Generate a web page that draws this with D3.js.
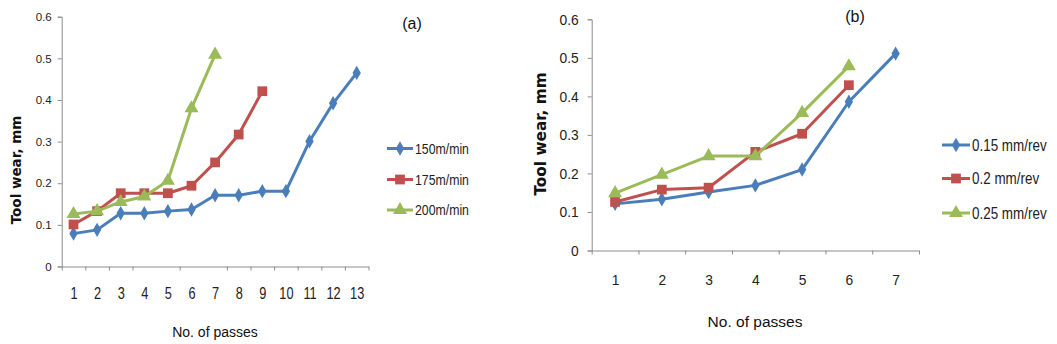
<!DOCTYPE html>
<html>
<head>
<meta charset="utf-8">
<script src="https://cdn.jsdelivr.net/npm/d3@7"></script>
<style>
  html, body { margin: 0; padding: 0; background: #fff; }
  svg { display: block; }
  text { font-family: "Liberation Sans", Arial, sans-serif; }
</style>
</head>
<body>
<svg id="chart" width="1057" height="344"></svg>
<script>
// ---------- Data: chart (a) cutting speed ----------
const passesA = [1,2,3,4,5,6,7,8,9,10,11,12,13];
const tickBoundsA = [0.5,1.5,2.5,3.5,5.5,7.5,8.5,9.5,10.5,11.5,12.5,13.5];
const speed150 = [0.079,0.088,0.128,0.128,0.133,0.137,0.171,0.171,0.181,0.181,0.301,0.392,0.465];
const speed175 = [0.101,0.133,0.176,0.176,0.176,0.194,0.250,0.317,0.421];
const speed200 = [0.126,0.133,0.155,0.168,0.206,0.380,0.509];
const seriesNamesA = ["150m/min","175m/min","200m/min"];

// ---------- Data: chart (b) feed rate ----------
const passesB = [1,2,3,4,5,6,7];
const feed015 = [0.121,0.133,0.152,0.169,0.210,0.386,0.511];
const feed02  = [0.126,0.158,0.163,0.256,0.303,0.429];
const feed025 = [0.149,0.197,0.245,0.245,0.357,0.478];
const seriesNamesB = ["0.15 mm/rev","0.2 mm/rev","0.25 mm/rev"];

const yTicks = [0,0.1,0.2,0.3,0.4,0.5,0.6];
const colors = ["#4a7ebb","#c0504d","#9bbb59"];
const shapes = [d3.symbolDiamond, d3.symbolSquare, d3.symbolTriangle];
const shapeSizes = [60, 95, 85];

const svg = d3.select("#chart");
const axisColor = "#8c8c8c";

function styleAxis(g) {
  g.select(".domain").attr("stroke", axisColor).attr("stroke-width", 1);
  g.selectAll(".tick line").attr("stroke", axisColor).attr("stroke-width", 1);
}

function drawChart(cfg) {
  const x = d3.scaleLinear().domain(cfg.xDomain).range(cfg.xRange);
  const y = d3.scaleLinear().domain([0, 0.6]).range(cfg.yRange);
  const g = svg.append("g");

  // Y axis
  const ya = g.append("g")
    .attr("transform", `translate(${cfg.xRange[0]},0)`)
    .call(d3.axisLeft(y).tickValues(yTicks).tickFormat(d => d === 0 ? "0" : d3.format(".1f")(d))
      .tickSize(4).tickPadding(cfg.yPad));
  ya.selectAll("text")
    .style("font-size", cfg.yFont + "px").attr("fill", "#222")
    .attr("x", -(4 + cfg.yPad) / cfg.yScaleX)
    .attr("transform", `scale(${cfg.yScaleX},1)`);
  styleAxis(ya);

  // X axis tick marks
  const xa = g.append("g")
    .attr("transform", `translate(0,${cfg.yRange[0]})`)
    .call(d3.axisBottom(x).tickValues(cfg.tickBounds).tickFormat("").tickSize(4).tickSizeOuter(0));
  styleAxis(xa);

  // X axis category labels
  const xl = g.append("g")
    .attr("transform", `translate(0,${cfg.yRange[0]})`)
    .call(d3.axisBottom(x).tickValues(cfg.cats).tickFormat(d3.format("d")).tickSize(0).tickPadding(cfg.xPad));
  xl.select(".domain").remove();
  xl.selectAll("text")
    .style("font-size", cfg.xFont + "px").attr("fill", "#222")
    .attr("transform", `scale(${cfg.xScaleX},1)`);

  // Titles
  g.append("text")
    .attr("transform", `translate(${cfg.yTitleX},${cfg.yTitleY}) rotate(-90)`)
    .attr("text-anchor", "middle")
    .style("font-family", "'DejaVu Sans', Verdana, sans-serif")
    .style("font-weight", "bold")
    .style("font-size", cfg.yTitleFont + "px")
    .attr("fill", "#111")
    .text("Tool wear, mm");

  g.append("text")
    .attr("x", cfg.xTitleX).attr("y", cfg.xTitleY)
    .attr("text-anchor", "middle")
    .style("font-size", cfg.xTitleFont + "px")
    .attr("fill", "#111")
    .text("No. of passes");

  g.append("text")
    .attr("x", cfg.labelX).attr("y", cfg.labelY)
    .attr("text-anchor", "middle")
    .style("font-size", "16px")
    .attr("fill", "#111")
    .text(cfg.label);

  // Series
  const line = d3.line().x(d => x(d[0])).y(d => y(d[1]));
  cfg.series.forEach((vals, i) => {
    const pts = vals.map((v, k) => [cfg.cats[k], v]);
    g.append("path").datum(pts)
      .attr("fill", "none").attr("stroke", colors[i]).attr("stroke-width", 3)
      .attr("stroke-linejoin", "round").attr("d", line);
    g.selectAll(null).data(pts).enter().append("path")
      .attr("transform", d => `translate(${x(d[0])},${y(d[1])})`)
      .attr("d", d3.symbol().type(shapes[i]).size(shapeSizes[i]))
      .attr("fill", colors[i]);
  });

  // Legend
  cfg.names.forEach((name, i) => {
    const ly = cfg.legendY[i];
    g.append("line")
      .attr("x1", cfg.legendX).attr("x2", cfg.legendX + cfg.legendLen)
      .attr("y1", ly).attr("y2", ly)
      .attr("stroke", colors[i]).attr("stroke-width", 3);
    g.append("path")
      .attr("transform", `translate(${cfg.legendX + cfg.legendLen / 2},${ly})`)
      .attr("d", d3.symbol().type(shapes[i]).size(shapeSizes[i]))
      .attr("fill", colors[i]);
    g.append("text")
      .attr("transform", `translate(${cfg.legendX + cfg.legendLen + 2},${ly}) scale(${cfg.legendScaleX},1)`)
      .attr("dy", "0.35em")
      .style("font-size", cfg.legendFont + "px")
      .attr("fill", "#222")
      .text(name);
  });
}

drawChart({
  cats: passesA, tickBounds: tickBoundsA,
  xDomain: [0.5, 13.5], xRange: [61.7, 368.5], yRange: [266.5, 16.7],
  yPad: 6, yFont: 11.5, yScaleX: 1, xPad: 20, xFont: 17, xScaleX: 0.75,
  yTitleX: 21, yTitleY: 170, yTitleFont: 13.5,
  xTitleX: 215, xTitleY: 337, xTitleFont: 14,
  label: "(a)", labelX: 412, labelY: 29,
  series: [speed150, speed175, speed200], names: seriesNamesA,
  legendX: 387, legendLen: 26, legendY: [148.5, 179.5, 210], legendFont: 15, legendScaleX: 0.82
});

drawChart({
  cats: passesB, tickBounds: d3.range(0.5, 8, 1),
  xDomain: [0.5, 7.5], xRange: [591.7, 919], yRange: [250.5, 19.3],
  yPad: 9, yFont: 15, yScaleX: 0.92, xPad: 24, xFont: 15, xScaleX: 0.92,
  yTitleX: 546, yTitleY: 134, yTitleFont: 15.3,
  xTitleX: 755, xTitleY: 327, xTitleFont: 15.5,
  label: "(b)", labelX: 855, labelY: 22,
  series: [feed015, feed02, feed025], names: seriesNamesB,
  legendX: 942, legendLen: 28, legendY: [145, 178.5, 213], legendFont: 16, legendScaleX: 0.84
});
</script>
</body>
</html>
